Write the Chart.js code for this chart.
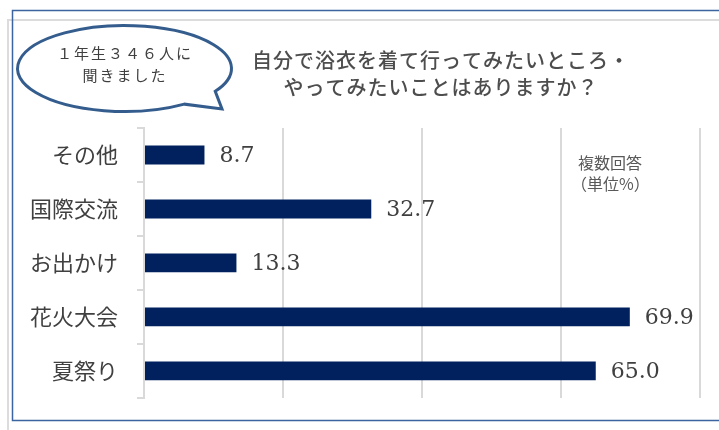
<!DOCTYPE html>
<html lang="ja">
<head>
<meta charset="utf-8">
<script src="https://cdn.jsdelivr.net/npm/chart.js@4"></script>
<style>
  body { margin: 0; background: #ffffff; }
  canvas { display: block; }
</style>
</head>
<body>
<canvas id="yukataChart" width="719" height="430"></canvas>
<script>
// Chart data
const categories = ["その他", "国際交流", "お出かけ", "花火大会", "夏祭り"]
const percents = [8.7, 32.7, 13.3, 69.9, 65.0]
const xTicks = [0, 20, 40, 60, 80]

const titleLines = ["自分で浴衣を着て行ってみたいところ・", "やってみたいことはありますか？"]
const bubbleLines = ["１年生３４６人に", "聞きました"]
const noteLines = ["複数回答", "（単位%）"]

const CJK = '"Noto Sans CJK JP", "Noto Sans", sans-serif'

// frame, speech bubble, title and note
const decorPlugin = {
  id: "decor",
  beforeDraw(chart) {
    const ctx = chart.ctx
    ctx.save()
    ctx.fillStyle = "#ffffff"
    ctx.fillRect(0, 0, chart.width, chart.height)

    // grey outer lines
    ctx.strokeStyle = "#dcdcdc"
    ctx.lineWidth = 2
    ctx.beginPath()
    ctx.moveTo(8, 430)
    ctx.lineTo(8, 20)
    ctx.lineTo(719, 20)
    ctx.stroke()

    // blue inner frame
    ctx.strokeStyle = "#3b64a0"
    ctx.lineWidth = 1.5
    ctx.beginPath()
    ctx.moveTo(719, 10.5)
    ctx.lineTo(12.5, 10.5)
    ctx.lineTo(12.5, 420.5)
    ctx.lineTo(719, 420.5)
    ctx.stroke()
    ctx.restore()
  },
  afterDraw(chart) {
    const ctx = chart.ctx
    ctx.save()

    // speech bubble
    const deg = Math.PI / 180
    ctx.strokeStyle = "#345d8e"
    ctx.lineWidth = 3
    ctx.beginPath()
    ctx.ellipse(124.5, 68.5, 107, 43, 0, 56 * deg, 32 * deg)
    ctx.lineTo(222, 109)
    ctx.closePath()
    ctx.fillStyle = "#ffffff"
    ctx.fill()
    ctx.stroke()

    ctx.fillStyle = "#404040"
    ctx.textAlign = "center"
    ctx.textBaseline = "middle"
    ctx.font = "15px " + CJK
    ctx.letterSpacing = "2px"
    ctx.fillText(bubbleLines[0], 125, 53)
    ctx.fillText(bubbleLines[1], 125, 75)

    // title
    ctx.letterSpacing = "1px"
    ctx.fillStyle = "#4d4d4d"
    ctx.font = "500 20px " + CJK
    ctx.fillText(titleLines[0], 441, 60)
    ctx.fillText(titleLines[1], 441, 87)

    // note
    ctx.letterSpacing = "0px"
    ctx.textAlign = "left"
    ctx.fillStyle = "#595959"
    ctx.font = "16px " + CJK
    ctx.fillText(noteLines[0], 578, 163)
    ctx.fillText(noteLines[1], 571, 184)

    ctx.restore()
  },
}

// value labels at the end of each bar
const valueLabels = {
  id: "valueLabels",
  afterDatasetsDraw(chart) {
    const ctx = chart.ctx
    const meta = chart.getDatasetMeta(0)
    ctx.save()
    ctx.fillStyle = "#404040"
    ctx.font = '22px "DejaVu Serif", serif'
    ctx.textAlign = "left"
    ctx.textBaseline = "middle"
    meta.data.forEach((bar, i) => {
      ctx.fillText(percents[i].toFixed(1), bar.x + 15, bar.y + 1)
    })
    ctx.restore()
  },
}

new Chart(document.getElementById("yukataChart"), {
  type: "bar",
  data: {
    labels: categories,
    datasets: [
      {
        data: percents,
        backgroundColor: "#00205e",
        borderWidth: 0,
        barPercentage: 0.35,
        categoryPercentage: 1,
      },
    ],
  },
  options: {
    indexAxis: "y",
    responsive: false,
    animation: false,
    layout: { padding: { top: 128, bottom: 24, left: 0, right: 19 } },
    plugins: {
      legend: { display: false },
      tooltip: { enabled: false },
    },
    scales: {
      x: {
        min: xTicks[0],
        max: xTicks[xTicks.length - 1],
        afterBuildTicks: (scale) => {
          scale.ticks = xTicks.map((v) => ({ value: v }))
        },
        afterFit: (scale) => {
          scale.height = 0
        },
        ticks: { display: false },
        border: { display: false },
        grid: { color: "#d9d9d9", lineWidth: 2, drawTicks: false },
      },
      y: {
        afterFit: (scale) => {
          scale.width = 144
        },
        border: { display: true, color: "#d9d9d9", width: 2 },
        grid: {
          offset: true,
          drawOnChartArea: false,
          drawTicks: true,
          tickLength: 7,
          color: "#d9d9d9",
          lineWidth: 2,
        },
        ticks: {
          color: "#404040",
          padding: 19,
          font: { family: CJK, size: 22 },
        },
      },
    },
  },
  plugins: [decorPlugin, valueLabels],
})
</script>
</body>
</html>
